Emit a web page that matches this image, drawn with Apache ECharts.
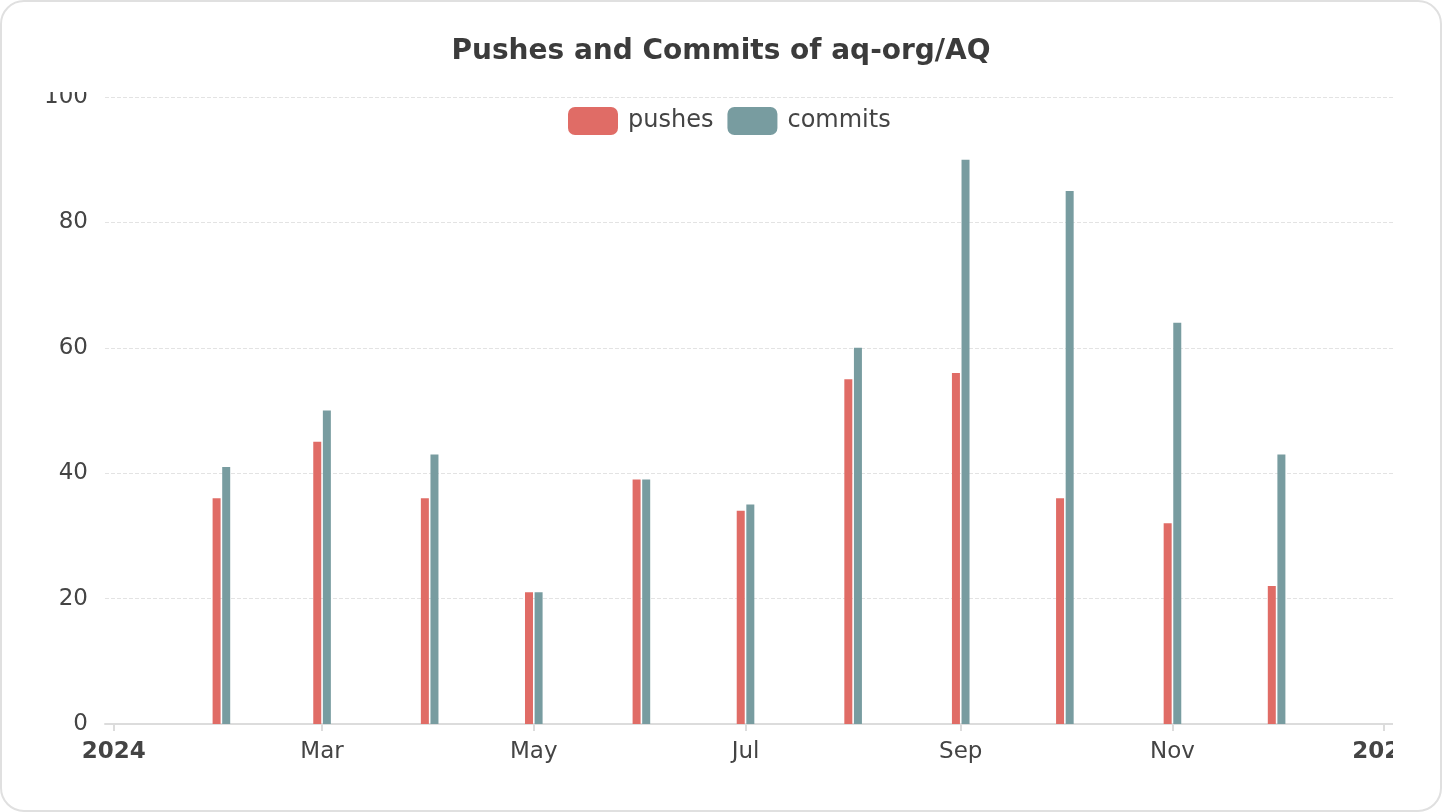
<!DOCTYPE html>
<html>
<head>
<meta charset="utf-8">
<script src="https://cdn.jsdelivr.net/npm/echarts@6/dist/echarts.min.js"></script>
<style>
  html, body { margin: 0; padding: 0; background: #ffffff; }
  #card {
    position: absolute; left: 0; top: 0; width: 1438px; height: 808px;
    border: 2px solid #e0e0e0; border-radius: 24px; background: #fff; overflow: hidden;
  }
  #chart {
    position: absolute; left: -2px; top: -2px; width: 1442px; height: 812px;
    clip-path: polygon(0px 0px, 1442px 0px, 1442px 80px, 1393px 80px, 1393px 812px, 0px 812px, 0px 92px, 100px 92px, 100px 80px, 0px 80px);
  }
</style>
</head>
<body>
<div id="card"><div id="chart"></div></div>
<script>
const months = ['2024-01-01','2024-02-01','2024-03-01','2024-04-01','2024-05-01','2024-06-01','2024-07-01','2024-08-01','2024-09-01','2024-10-01','2024-11-01','2024-12-01','2025-01-01'];
const pushes = [0, 36, 45, 36, 21, 39, 34, 55, 56, 36, 32, 22, 0];
const commits = [0, 41, 50, 43, 21, 39, 35, 60, 90, 85, 64, 43, 0];
const seriesNames = ['pushes', 'commits'];
const titleText = 'Pushes and Commits of aq-org/AQ';

const chart = echarts.init(document.getElementById('chart'));
const font = 'DejaVu Sans';
chart.setOption({
  animation: false,
  title: {
    text: titleText, left: 'center', top: 33,
    textStyle: { fontFamily: font, fontSize: 28, fontWeight: 'bold', color: '#3b3b3b' }
  },
  legend: {
    data: seriesNames, top: 102, left: 563,
    itemWidth: 50, itemHeight: 28, itemGap: 14, icon: 'roundRect',
    textStyle: { fontFamily: font, fontSize: 24, color: '#444', padding: [0, 0, 0, 5] }
  },
  grid: { left: 105, right: 49, top: 97, bottom: 88 },
  xAxis: {
    type: 'time',
    axisLine: { lineStyle: { color: '#dcdcdc', width: 2 } },
    axisTick: { show: true, length: 7, lineStyle: { color: '#dcdcdc', width: 2 } },
    splitLine: { show: false },
    axisLabel: { fontFamily: font, fontSize: 23, color: '#444', margin: 17 }
  },
  yAxis: {
    type: 'value', min: 0, max: 100, interval: 20,
    axisLine: { show: false }, axisTick: { show: false },
    splitLine: { lineStyle: { type: 'dashed', color: '#e3e3e3', width: 1 } },
    axisLabel: { fontFamily: font, fontSize: 23, color: '#444', margin: 17 }
  },
  series: [
    { name: seriesNames[0], type: 'bar', barWidth: 8, barGap: '20%', itemStyle: { color: '#e06c66' },
      data: months.map((m, i) => [m, pushes[i]]) },
    { name: seriesNames[1], type: 'bar', barWidth: 8, barGap: '20%', itemStyle: { color: '#789ca0' },
      data: months.map((m, i) => [m, commits[i]]) }
  ]
});
</script>
</body>
</html>
